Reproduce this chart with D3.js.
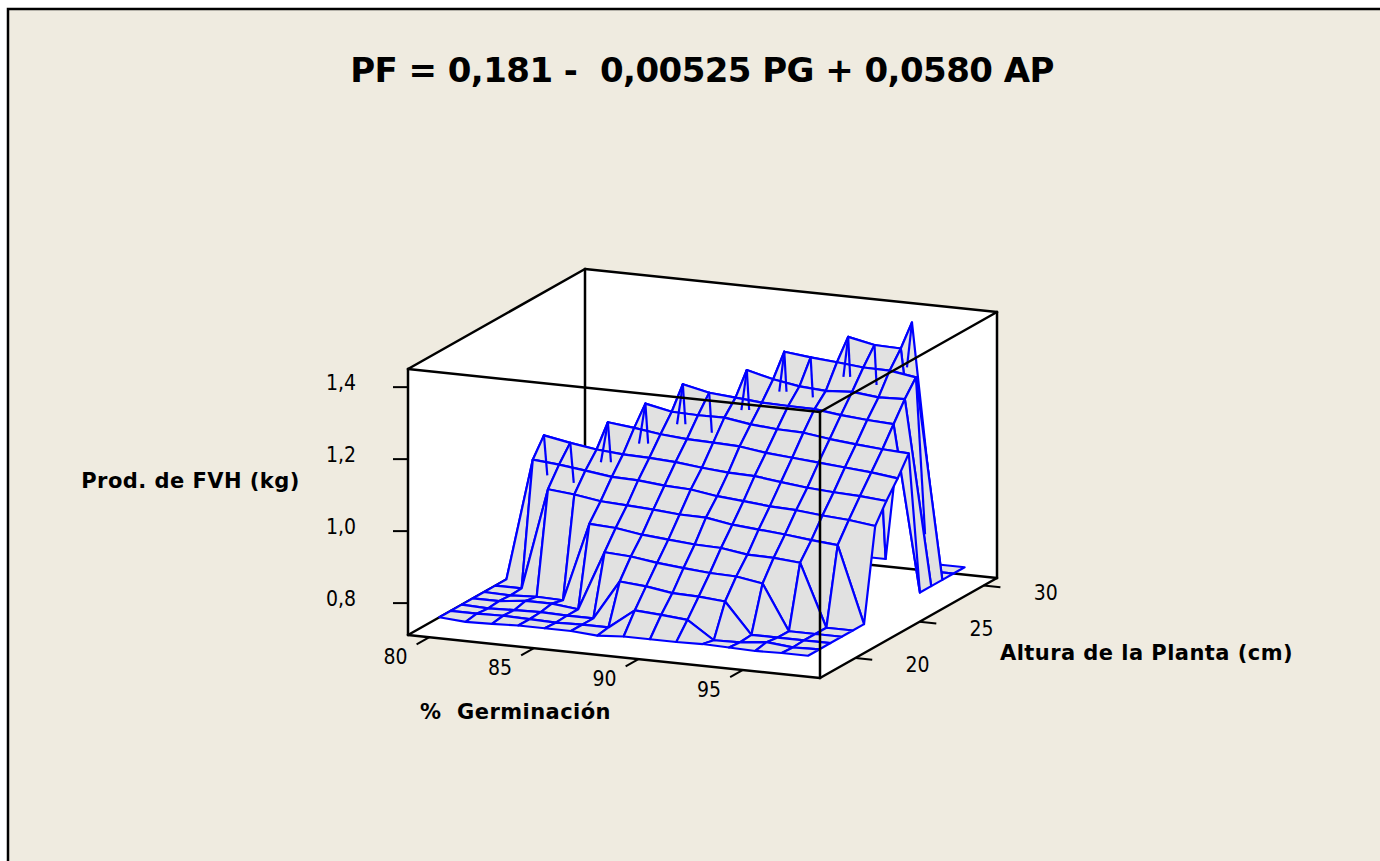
<!DOCTYPE html>
<html>
<head>
<meta charset="utf-8">
<script src="https://cdn.jsdelivr.net/npm/d3@7"></script>
<style>
  html, body { margin: 0; padding: 0; background: #fff; }
  svg { display: block; }
  text { white-space: pre; }
</style>
</head>
<body>
<div id="chart"></div>
<script>
// % germinacion (columns) and altura de la planta (rows) of the mesh
const germinacion = [80, 81.26, 82.52, 83.78, 85.04, 86.3, 87.56, 88.82, 90.08, 91.34, 92.6, 93.86, 95.12, 96.38, 97.64];
const altura = [18, 18.87, 19.75, 20.62, 21.49, 22.37, 23.24, 24.11, 24.99, 25.86, 26.73, 27.61, 28.48, 29.35, 30.22];

// produccion, one list per altura row (about 0.75 = floor)
const prod18 = [0.75, 0.745, 0.747, 0.75, 0.75, 0.75, 0.745, 0.75, 0.75, 0.75, 0.752, 0.75, 0.748, 0.75, 0.75];
const prod19 = [0.75, 0.75, 0.752, 0.75, 0.748, 0.75, 0.75, 0.805, 0.80, 0.794, 0.745, 0.747, 0.755, 0.748, 0.75];
const prod20 = [0.75, 0.747, 0.75, 0.752, 0.75, 0.75, 0.86, 0.854, 0.843, 0.841, 0.835, 0.75, 0.75, 0.75, 0.75];
const prod21 = [0.75, 0.75, 0.758, 0.758, 0.75, 0.916, 0.912, 0.902, 0.895, 0.889, 0.887, 0.875, 0.75, 0.75, 0.75];
const prod22 = [0.75, 0.748, 0.752, 0.75, 0.97, 0.966, 0.955, 0.949, 0.943, 0.941, 0.93, 0.929, 0.923, 0.75, 0.75];
const prod23 = [0.75, 0.75, 1.033, 1.026, 1.015, 1.011, 1.007, 1.001, 1.0, 0.988, 0.982, 0.976, 0.968, 0.962, 0.75];
const prod24 = [0.75, 1.09, 1.084, 1.075, 1.065, 1.063, 1.056, 1.053, 1.042, 1.036, 1.029, 1.026, 1.019, 1.014, 1.005];
const prod25 = [0.75, 1.14, 1.127, 1.116, 1.11, 1.108, 1.104, 1.096, 1.09, 1.088, 1.079, 1.071, 1.066, 1.063, 1.057];
const prod26 = [0.75, 0.75, 0.75, 1.174, 1.166, 1.156, 1.15, 1.148, 1.145, 1.135, 1.129, 1.123, 1.117, 1.111, 1.102];
const prod27 = [0.75, 0.75, 0.75, 0.75, 1.216, 1.201, 1.199, 1.2, 1.189, 1.183, 1.181, 1.171, 1.164, 1.158, 1.154];
const prod28 = [0.75, 0.75, 0.75, 0.75, 0.75, 1.26, 1.244, 1.238, 1.232, 1.23, 1.229, 1.22, 1.214, 1.21, 0.75];
const prod29 = [0.75, 0.75, 0.75, 0.75, 0.75, 0.75, 0.75, 1.297, 1.279, 1.267, 1.262, 1.267, 1.259, 1.262, 0.75];
const prod30 = [0.75, 0.75, 0.75, 0.75, 0.75, 0.75, 0.75, 0.75, 1.338, 1.33, 1.324, 1.317, 1.316, 1.305, 0.75];
const prod31 = [0.75, 0.75, 0.75, 0.75, 0.75, 0.75, 0.75, 0.75, 0.75, 0.75, 1.377, 1.362, 1.36, 0.75, 0.75];
const prod32 = [0.75, 0.75, 0.75, 0.75, 0.75, 0.75, 0.75, 0.75, 0.75, 0.75, 0.75, 0.75, 1.415, 0.75, 0.75];
const prodRows = [prod18, prod19, prod20, prod21, prod22, prod23, prod24, prod25, prod26, prod27, prod28, prod29, prod30, prod31, prod32];

const germTicks = [80, 85, 90, 95];
const alturaTicks = [20, 25, 30];
const prodTicks = [0.8, 1.0, 1.2, 1.4];

const isFloor = z => z < 0.78;
const spikeDrop = 40; // how far the lines behind the ridge stay visible

const width = 1380, height = 861;
const svg = d3.select("#chart").append("svg")
    .attr("width", width)
    .attr("height", height);

// panel
svg.append("rect")
    .attr("x", 8).attr("y", 9)
    .attr("width", width + 20).attr("height", height + 20)
    .attr("fill", "#efebe0")
    .attr("stroke", "#000")
    .attr("stroke-width", 2.5);

// oblique box: each scale gives the position along one edge of the box
const origin = { x: 408, y: 635 };
const xScale = d3.scaleLinear().domain([78.975, 98.685]).range([0, 1]);
const yScale = d3.scaleLinear().domain([17.23, 31.04]).range([0, 1]);
const zScale = d3.scaleLinear().domain([0.71, 1.449]).range([635, 369]);

function project(pg, ap, z) {
    let u = xScale(pg), v = yScale(ap);
    return [origin.x + u * 412 + v * 177, zScale(z) + u * 43 - v * 100];
}

const line = d3.line();
const xMin = xScale.domain()[0], xMax = xScale.domain()[1];
const yMin = yScale.domain()[0], yMax = yScale.domain()[1];
const zMin = zScale.domain()[0], zMax = zScale.domain()[1];

function boxLine(a, b) {
    svg.append("path")
        .attr("d", line([project(...a), project(...b)]))
        .attr("fill", "none")
        .attr("stroke", "#000")
        .attr("stroke-width", 2.5)
        .attr("stroke-linecap", "round");
}

// white inside of the box
svg.append("path")
    .attr("d", line([
        project(xMin, yMin, zMin), project(xMin, yMin, zMax), project(xMin, yMax, zMax),
        project(xMax, yMax, zMax), project(xMax, yMax, zMin), project(xMax, yMin, zMin)
    ]) + "Z")
    .attr("fill", "#fff");

// back edges go under the surface
boxLine([xMin, yMin, zMin], [xMin, yMax, zMin]);
boxLine([xMin, yMax, zMin], [xMax, yMax, zMin]);
boxLine([xMin, yMax, zMin], [xMin, yMax, zMax]);
boxLine([xMin, yMax, zMax], [xMax, yMax, zMax]);
boxLine([xMin, yMax, zMax], [xMin, yMin, zMax]);
boxLine([xMax, yMax, zMax], [xMax, yMax, zMin]);

// surface, back row first and left to right within a row
const quads = [];
for (let j = altura.length - 2; j >= 0; j--) {
    for (let i = 0; i < germinacion.length - 1; i++) {
        quads.push([
            project(germinacion[i], altura[j], prodRows[j][i]),
            project(germinacion[i + 1], altura[j], prodRows[j][i + 1]),
            project(germinacion[i + 1], altura[j + 1], prodRows[j + 1][i + 1]),
            project(germinacion[i], altura[j + 1], prodRows[j + 1][i])
        ]);
    }
}
svg.append("g").selectAll("path")
    .data(quads)
    .join("path")
    .attr("d", d => line(d) + "Z")
    .attr("fill", "#e1e1e1")
    .attr("stroke", "#0000ff")
    .attr("stroke-width", 2.2)
    .attr("stroke-linejoin", "round");

// short ends of the lines that fall off the back of the ridge
const spikes = [];
prodRows.forEach((row, j) => {
    row.forEach((z, i) => {
        if (isFloor(z)) return;
        if (j === 14) { spikes.push([i, j, i - 1, j, spikeDrop + 5]); return; }
        if (i < 13 && isFloor(prodRows[j + 1][i])) {
            spikes.push([i, j, i, j + 1, spikeDrop]);
            if (i > 1 && isFloor(row[i - 1])) spikes.push([i, j, i - 1, j, spikeDrop]);
        }
    });
});
spikes.push([13, 12, 13, 13, 157]); // the long one at the right end
svg.append("g").selectAll("path")
    .data(spikes)
    .join("path")
    .attr("d", d => {
        let a = project(germinacion[d[0]], altura[d[1]], prodRows[d[1]][d[0]]);
        let b = project(germinacion[d[2]], altura[d[3]], prodRows[d[3]][d[2]]);
        let t = d[4] / (b[1] - a[1]);
        return line([a, [a[0] + (b[0] - a[0]) * t, a[1] + (b[1] - a[1]) * t]]);
    })
    .attr("fill", "none")
    .attr("stroke", "#0000ff")
    .attr("stroke-width", 2.2);

// front edges go over the surface
boxLine([xMin, yMin, zMin], [xMin, yMin, zMax]);
boxLine([xMin, yMin, zMax], [xMax, yMin, zMax]);
boxLine([xMax, yMin, zMax], [xMax, yMin, zMin]);
boxLine([xMax, yMin, zMax], [xMax, yMax, zMax]);
boxLine([xMin, yMin, zMin], [xMax, yMin, zMin]);
boxLine([xMax, yMin, zMin], [xMax, yMax, zMin]);

const labelFont = "DejaVu Sans, Verdana, sans-serif";

function tickText(sel) {
    sel.attr("fill", "#000")
        .style("font-family", "'DejaVu Sans Condensed', 'DejaVu Sans', sans-serif")
        .style("font-stretch", "condensed")
        .style("font-size", "21px");
}

// prod axis is a plain vertical axis on the front left edge
const zAxis = svg.append("g")
    .attr("transform", `translate(${origin.x},0)`)
    .call(d3.axisLeft(zScale).tickValues(prodTicks).tickSize(15).tickPadding(37)
        .tickFormat(d => d3.format(".1f")(d).replace(".", ",")));
zAxis.select(".domain").remove();
zAxis.selectAll("line").attr("stroke", "#000").attr("stroke-width", 2);
zAxis.selectAll("text").call(tickText).attr("dy", "0.14em");

// germinacion ticks lean along the depth direction
germTicks.forEach(t => {
    let a = project(t, yMin, zMin), b = project(t, yMin - 1, zMin);
    svg.append("path").attr("d", line([a, b])).attr("stroke", "#000").attr("stroke-width", 2);
    svg.append("text").attr("x", a[0] - 34).attr("y", a[1] + 27)
        .attr("text-anchor", "middle")
        .call(tickText)
        .text(t);
});

// altura ticks run along the width direction
alturaTicks.forEach(t => {
    let a = project(xMax, t, zMin), b = project(xMax + 0.8, t, zMin);
    svg.append("path").attr("d", line([a, b])).attr("stroke", "#000").attr("stroke-width", 2);
    svg.append("text").attr("x", a[0] + 62).attr("y", a[1] + 14)
        .attr("text-anchor", "middle")
        .call(tickText)
        .text(t);
});

svg.append("text").attr("x", 702).attr("y", 82)
    .attr("text-anchor", "middle")
    .style("font-family", labelFont).style("font-weight", "bold").style("font-size", "34px")
    .style("letter-spacing", "-0.55px")
    .text("PF = 0,181 -  0,00525 PG + 0,0580 AP");

function axisTitle(x, y, s) {
    svg.append("text").attr("x", x).attr("y", y)
        .attr("text-anchor", "middle")
        .style("font-family", labelFont).style("font-weight", "bold").style("font-size", "21px")
        .style("letter-spacing", "0.45px")
        .text(s);
}
axisTitle(190.5, 488, "Prod. de FVH (kg)");
axisTitle(515.5, 719, "%  Germinación");
axisTitle(1146.5, 660, "Altura de la Planta (cm)");
</script>
</body>
</html>
